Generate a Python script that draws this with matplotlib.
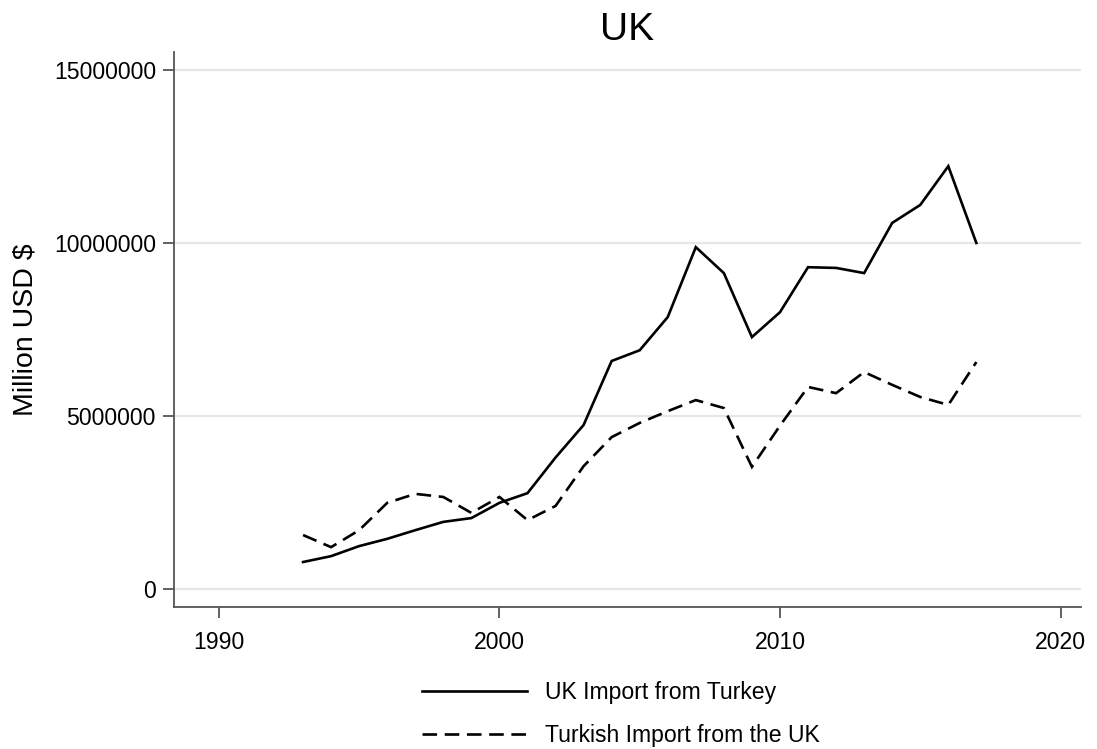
import matplotlib
matplotlib.use("Agg")
import matplotlib.pyplot as plt

plt.rcParams["font.family"] = ["Liberation Sans", "DejaVu Sans"]
plt.rcParams["lines.scale_dashes"] = False

years = list(range(1993, 2018))
uk_import_from_turkey = [
    780000, 950000, 1240000, 1450000, 1700000, 1940000, 2050000, 2490000,
    2770000, 3800000, 4740000, 6590000, 6900000, 7860000, 9880000, 9130000,
    7280000, 8000000, 9300000, 9280000, 9130000, 10580000, 11100000,
    12220000, 10000000,
]
turkish_import_from_uk = [
    1560000, 1210000, 1700000, 2490000, 2750000, 2660000, 2200000, 2660000,
    1990000, 2400000, 3550000, 4390000, 4800000, 5140000, 5460000, 5230000,
    3530000, 4720000, 5840000, 5660000, 6270000, 5900000, 5550000, 5320000,
    6560000,
]
series_labels = ["UK Import from Turkey", "Turkish Import from the UK"]
x_ticks = [1990, 2000, 2010, 2020]
y_ticks = [0, 5000000, 10000000, 15000000]

W, H = 1097, 749
fig = plt.figure(figsize=(W / 100, H / 100), dpi=100)
ax = fig.add_axes([174 / W, 1 - 607 / H, (1081 - 174) / W, (607 - 52) / H])

spine_color = "#555555"
grid_color = "#e6e6e6"

ax.plot(years, uk_import_from_turkey, color="black", lw=1.9,
        solid_joinstyle="miter", label=series_labels[0])
ax.plot(years, turkish_import_from_uk, color="black", lw=1.9,
        linestyle=(0, (10.5, 5.5)), dash_joinstyle="miter",
        label=series_labels[1])

ax.set_xlim(1988.40, 2020.73)
ax.set_ylim(-520000, 15520000)
ax.set_xticks(x_ticks)
ax.set_yticks(y_ticks)
ax.set_yticklabels([str(v) for v in y_ticks])
ax.set_xticklabels([str(v) for v in x_ticks])

ax.yaxis.grid(True, color=grid_color, lw=1.5)
ax.set_axisbelow(True)

for side in ("top", "right"):
    ax.spines[side].set_visible(False)
for side in ("left", "bottom"):
    ax.spines[side].set_color(spine_color)
    ax.spines[side].set_linewidth(1.3)

ax.tick_params(axis="both", length=8, width=1.3, color=spine_color,
               labelsize=16.6, labelcolor="black")
ax.tick_params(axis="x", pad=9)
ax.tick_params(axis="y", pad=5)

ax.set_ylabel("Million USD $", fontsize=20.5, va="center")
ax.yaxis.set_label_coords(-0.164, 0.5)
ax.set_title("UK", fontsize=28, pad=9)

fig.legend(loc="center", bbox_to_anchor=(621 / W, 1 - 714 / H),
           frameon=False, fontsize=16.6, handlelength=4.55,
           handletextpad=0.8, labelspacing=0.9, borderpad=0)

fig.savefig("out.png", dpi=100)
